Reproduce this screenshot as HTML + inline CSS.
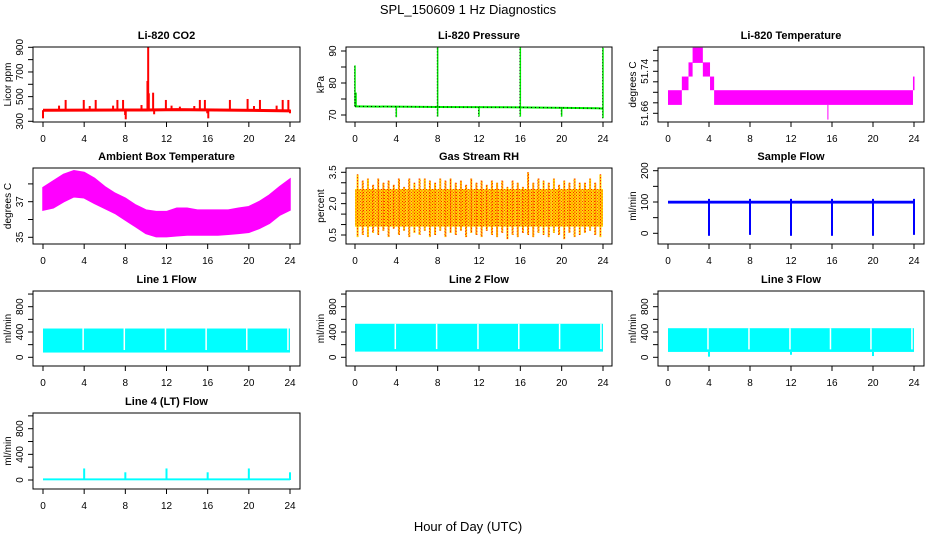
<!DOCTYPE html>
<html><head><meta charset="utf-8"><style>
html,body{margin:0;padding:0;background:#fff;}
svg{display:block;font-family:"Liberation Sans",sans-serif;}
</style></head><body>
<svg id="root" width="936" height="540" viewBox="0 0 936 540" xmlns="http://www.w3.org/2000/svg">
<defs>
<pattern id="rhpat" width="3" height="3" patternUnits="userSpaceOnUse">
<rect width="3" height="3" fill="#ffd800"/>
<rect x="0" y="0" width="1" height="1" fill="#ff2000"/>
<rect x="1.5" y="1.5" width="1" height="1" fill="#ff2000"/>
</pattern>
</defs>
<text x="468" y="14" text-anchor="middle" font-size="13">SPL_150609  1 Hz Diagnostics</text>
<text x="468" y="531" text-anchor="middle" font-size="13">Hour of Day (UTC)</text>
</svg>
<script>
// ---- data ----
const xTicks = [0,4,8,12,16,20,24];
const co2BaseHours = [0,10,13,24];
const co2BaseVals = [390,392,395,385];
const co2SpikeHours = [0,1.56,2.2,3.96,4.54,5.12,6.81,7.23,7.78,7.98,8.04,9.57,10.15,10.22,10.28,10.7,10.8,11.94,12.49,13.3,14.7,15.24,15.73,15.96,16.06,18.16,19.88,20.5,21.08,22.7,23.29,23.84,24.0];
const co2SpikeVals = [324,427,473,473,424,473,427,473,473,351,316,432,627,900,527,532,357,473,427,419,424,473,473,365,324,473,481,424,473,427,473,473,365];
const presBaseHours = [0,8,16,23.5,24];
const presBaseVals = [72.7,72.5,72.4,72.1,72.0];
const presSpikeHours = [0,0.1,4,8,8,12,16,16,20,24,24];
const presSpikeVals = [85.5,77,69.3,91.5,69.5,69.5,91.5,69.5,69.5,91,69];
const ltStart = [0,1.35,2.0,2.4,3.4,4.1,4.5,23.9];
const ltEnd = [1.35,2.0,2.4,3.4,4.1,4.5,23.9,24.05];
const ltLow = [51.676,51.704,51.730,51.756,51.730,51.704,51.676,51.704];
const ltHigh = [51.704,51.730,51.757,51.785,51.757,51.730,51.704,51.730];
const ambHours = [0,1,2,3,4,5,6,7,8,9,10,11,12,13,14,15,16,17,18,19,20,21,22,23,24];
const ambUpper = [37.79,38.16,38.53,38.74,38.64,38.31,37.84,37.47,37.19,36.81,36.53,36.44,36.44,36.63,36.63,36.53,36.53,36.53,36.53,36.63,36.72,37.0,37.37,37.84,38.27];
const ambLower = [36.53,36.66,37.0,37.28,37.22,36.91,36.63,36.35,35.97,35.6,35.22,35.04,35.04,35.09,35.13,35.13,35.13,35.13,35.17,35.22,35.28,35.5,35.79,36.25,36.53];
const rhHigh = [3.4,3.1,3.2,2.9,3.2,3.0,3.1,2.9,3.2,2.8,3.2,3.0,3.2,3.2,3.1,3.0,3.2,3.1,3.2,3.0,3.1,2.9,3.2,3.0,3.1,2.9,3.1,3.0,3.1,2.8,3.1,3.0,2.8,3.5,3.0,3.2,3.1,3.0,3.2,2.9,3.1,3.0,3.2,3.0,3.0,3.2,3.0,3.4];
const rhLow = [0.4,0.5,0.4,0.6,0.5,0.7,0.4,0.8,0.5,0.7,0.4,0.6,0.5,0.7,0.4,0.5,0.7,0.4,0.6,0.5,0.7,0.4,0.6,0.5,0.4,0.7,0.5,0.4,0.6,0.3,0.5,0.4,0.6,0.5,0.4,0.6,0.5,0.4,0.6,0.5,0.3,0.6,0.4,0.5,0.6,0.7,0.5,0.4];
const sfBaseLow = 95;
const sfBaseHigh = 104;
const sfDipHours = [4,8,12,16,20,24];
const sfDipVals = [-8,-5,-8,-8,-8,-5];
const flowGapHours = [3.9,7.9,11.9,15.85,19.8,23.8];
const l1Low = 75, l1High = 455;
const l2Low = 90, l2High = 530;
const l3Low = 85, l3High = 460;
const l3DipHours = [4,12,20];
const l3DipVals = [10,40,20];
const l4Base = 25;
const l4SpikeHours = [4,8,12,16,20,24];
const l4SpikeVals = [180,120,180,120,180,120];

// ---- layout ----
const NS = 'http://www.w3.org/2000/svg';
const root = document.getElementById('root');
const cols = [{b0:33,b1:300,t0:43,t1:290},{b0:346,b1:612,t0:355,t1:603},{b0:658,b1:924,t0:668,t1:914}];
const rows = [{y0:47,y1:122},{y0:168,y1:244},{y0:291,y1:366},{y0:413,y1:489}];
let clipId = 0;
function mk(parent, tag, attrs, name) {
  const e = document.createElementNS(NS, tag);
  for (const k in attrs) e.setAttribute(k, attrs[k]);
  
  
  parent.appendChild(e);
  return e;
}
function panel(ci, ri, title, ylab, ticks, labels, va, pa, vb, pb) {
  const c = cols[ci], r = rows[ri];
  const g = mk(root, 'g', {}, 'panel-' + title.toLowerCase().replace(/[^a-z0-9]+/g,'-'));
  const X = h => c.t0 + (h / 24) * (c.t1 - c.t0);
  const Y = v => pa + (v - va) * (pb - pa) / (vb - va);
  const tt = mk(g, 'text', {x:(c.b0+c.b1)/2, y:r.y0-8, 'text-anchor':'middle','font-size':11,'font-weight':'bold'}, 'panel-title');
  tt.textContent = title;
  const cid = 'clip' + (clipId++);
  const cp = mk(root.querySelector('defs'), 'clipPath', {id:cid}, 'clip-region');
  mk(cp, 'rect', {x:c.b0, y:r.y0, width:c.b1-c.b0, height:r.y1-r.y0}, 'clip-rect');
  const plot = mk(g, 'g', {'clip-path':'url(#'+cid+')'}, 'plot-area');
  // x axis
  xTicks.forEach(h => {
    mk(g, 'line', {x1:X(h), x2:X(h), y1:r.y1, y2:r.y1+5, stroke:'#000'}, 'x-tick');
    const t = mk(g, 'text', {x:X(h), y:r.y1+20, 'text-anchor':'middle','font-size':10}, 'x-tick-label');
    t.textContent = h;
  });
  ticks.forEach(v => {
    mk(g, 'line', {x1:c.b0-5, x2:c.b0, y1:Y(v), y2:Y(v), stroke:'#000'}, 'y-tick');
  });
  labels.forEach(v => {
    const x = c.b0 - 10, y = Y(v);
    const t = mk(g, 'text', {x:x, y:y, 'text-anchor':'middle','font-size':10, transform:'rotate(-90 '+x+' '+y+')'}, 'y-tick-label');
    t.textContent = v;
  });
  const lx = c.b0 - 22, ly = (r.y0 + r.y1) / 2;
  const yl = mk(g, 'text', {x:lx, y:ly, 'text-anchor':'middle','font-size':10, transform:'rotate(-90 '+lx+' '+ly+')'}, 'y-axis-title');
  yl.textContent = ylab;
  setTimeout(() => mk(g, 'rect', {x:c.b0, y:r.y0, width:c.b1-c.b0, height:r.y1-r.y0, fill:'none', stroke:'#000'}, 'plot-frame'), 0);
  return {X, Y, plot};
}
function baseLine(p, hours, vals, color, w, name) {
  let d = '';
  hours.forEach((h,i) => { d += (i ? 'L' : 'M') + p.X(h) + ' ' + p.Y(vals[i]); });
  mk(p.plot, 'path', {d:d, stroke:color, 'stroke-width':w, fill:'none'}, name);
}
function interp(hours, vals, h) {
  for (let i = 1; i < hours.length; i++) if (h <= hours[i]) return vals[i-1];
  return vals[vals.length-1];
}

// CO2
const p1 = panel(0,0,'Li-820 CO2','Licor ppm',[300,400,500,600,700,800,900],[300,500,700,900],300,121.3,900,47.3);
baseLine(p1, co2BaseHours, co2BaseVals, '#ff0000', 3, 'co2-baseline');
co2SpikeHours.forEach((h,i) => {
  mk(p1.plot, 'line', {x1:p1.X(h), x2:p1.X(h), y1:p1.Y(interp(co2BaseHours,co2BaseVals,h)), y2:p1.Y(co2SpikeVals[i]), stroke:'#ff0000','stroke-width':2}, 'co2-spike');
});
// Pressure
const p2 = panel(1,0,'Li-820 Pressure','kPa',[70,75,80,85,90],[70,80,90],70,115,90,51);
baseLine(p2, presBaseHours, presBaseVals, '#00ee00', 2, 'pressure-baseline');
baseLine(p2, presBaseHours, presBaseVals, '#000', 1, 'pressure-baseline-dots');
p2.plot.lastChild.setAttribute('stroke-dasharray','1 3');
presSpikeHours.forEach((h,i) => {
  mk(p2.plot, 'line', {x1:p2.X(h), x2:p2.X(h), y1:p2.Y(interp(presBaseHours,presBaseVals,h)), y2:p2.Y(presSpikeVals[i]), stroke:'#00ee00','stroke-width':1.5}, 'pressure-spike');
  mk(p2.plot, 'line', {x1:p2.X(h)-0.5, x2:p2.X(h)-0.5, y1:p2.Y(interp(presBaseHours,presBaseVals,h)), y2:p2.Y(presSpikeVals[i]), stroke:'#000','stroke-width':0.7,'stroke-dasharray':'1 2'}, 'pressure-spike-dots');
});
// Li temp
const p3 = panel(2,0,'Li-820 Temperature','degrees C',[51.66,51.68,51.70,51.72,51.74,51.76,51.78],[51.66,51.74],51.66,113.3,51.74,71.3);
ltStart.forEach((s,i) => {
  mk(p3.plot, 'rect', {x:p3.X(s), y:p3.Y(ltHigh[i]), width:p3.X(ltEnd[i])-p3.X(s), height:p3.Y(ltLow[i])-p3.Y(ltHigh[i]), fill:'#ff00ff'}, 'li-temp-band');
});
mk(p3.plot, 'line', {x1:p3.X(15.6), x2:p3.X(15.6), y1:p3.Y(51.676), y2:p3.Y(51.648), stroke:'#ff00ff'}, 'li-temp-dip');
// Ambient
const p4 = panel(0,1,'Ambient Box Temperature','degrees C',[35,36,37,38],[35,37],35,237.3,37,201.7);
let ad = '';
ambHours.forEach((h,i) => { ad += (i ? 'L' : 'M') + p4.X(h) + ' ' + p4.Y(ambUpper[i]); });
for (let i = ambHours.length - 1; i >= 0; i--) ad += 'L' + p4.X(ambHours[i]) + ' ' + p4.Y(ambLower[i]);
mk(p4.plot, 'path', {d:ad+'Z', fill:'#ff00ff', stroke:'#ff00ff', 'stroke-width':1.5}, 'ambient-temp-band');
// RH
const p5 = panel(1,1,'Gas Stream RH','percent',[0.5,1,1.5,2,2.5,3,3.5],[0.5,2.0,3.5].map(v=>v.toFixed(1)),0.5,235,3.5,172.3);
rhHigh.forEach((v,i) => {
  const h0 = i * 0.5, h1 = h0 + 0.5;
  mk(p5.plot, 'rect', {x:p5.X(h0), y:p5.Y(2.7), width:p5.X(h1)-p5.X(h0), height:p5.Y(0.9)-p5.Y(2.7), fill:'url(#rhpat)'}, 'rh-band');
  mk(p5.plot, 'line', {x1:p5.X(h0+0.25), x2:p5.X(h0+0.25), y1:p5.Y(v), y2:p5.Y(rhLow[i]), stroke:'url(#rhpat)','stroke-width':2}, 'rh-spike');
  mk(p5.plot, 'line', {x1:p5.X(h0+0.25), x2:p5.X(h0+0.25), y1:p5.Y(v), y2:p5.Y(rhLow[i]), stroke:'#ff2000','stroke-width':1,'stroke-dasharray':'1 2'}, 'rh-spike-dots');
});
// Sample flow
const p6 = panel(2,1,'Sample Flow','ml/min',[0,50,100,150,200],[0,100,200],0,233.3,200,170.7);
mk(p6.plot, 'rect', {x:p6.X(0), y:p6.Y(sfBaseHigh), width:p6.X(24)-p6.X(0), height:p6.Y(sfBaseLow)-p6.Y(sfBaseHigh), fill:'#0000ff'}, 'sample-flow-band');
sfDipHours.forEach((h,i) => {
  mk(p6.plot, 'line', {x1:p6.X(h), x2:p6.X(h), y1:p6.Y(110), y2:p6.Y(sfDipVals[i]), stroke:'#0000ff','stroke-width':2}, 'sample-flow-dip');
});
// Line flows
function flowPanel(ci, title, lo, hi, dipH, dipV) {
  const p = panel(ci,2,title,'ml/min',[0,200,400,600,800,1000],[0,400,800],0,357.3,800,306.7);
  mk(p.plot, 'rect', {x:p.X(0), y:p.Y(hi), width:p.X(24)-p.X(0), height:p.Y(lo)-p.Y(hi), fill:'#00ffff'}, 'flow-band');
  flowGapHours.forEach(h => {
    mk(p.plot, 'line', {x1:p.X(h), x2:p.X(h), y1:p.Y(hi), y2:p.Y(lo+40), stroke:'#fff','stroke-width':1.5}, 'flow-gap');
  });
  dipH.forEach((h,i) => {
    mk(p.plot, 'line', {x1:p.X(h), x2:p.X(h), y1:p.Y(lo), y2:p.Y(dipV[i]), stroke:'#00ffff','stroke-width':2}, 'flow-dip');
  });
}
flowPanel(0,'Line 1 Flow',l1Low,l1High,[],[]);
flowPanel(1,'Line 2 Flow',l2Low,l2High,[],[]);
flowPanel(2,'Line 3 Flow',l3Low,l3High,l3DipHours,l3DipVals);
const p10 = panel(0,3,'Line 4 (LT) Flow','ml/min',[0,200,400,600,800,1000],[0,400,800],0,480,800,428.7);
mk(p10.plot, 'rect', {x:p10.X(0), y:p10.Y(l4Base), width:p10.X(24)-p10.X(0), height:p10.Y(-5)-p10.Y(l4Base), fill:'#00ffff'}, 'line4-baseline');
l4SpikeHours.forEach((h,i) => {
  mk(p10.plot, 'line', {x1:p10.X(h), x2:p10.X(h), y1:p10.Y(0), y2:p10.Y(l4SpikeVals[i]), stroke:'#00ffff','stroke-width':2}, 'line4-spike');
});
</script>
</body></html>
